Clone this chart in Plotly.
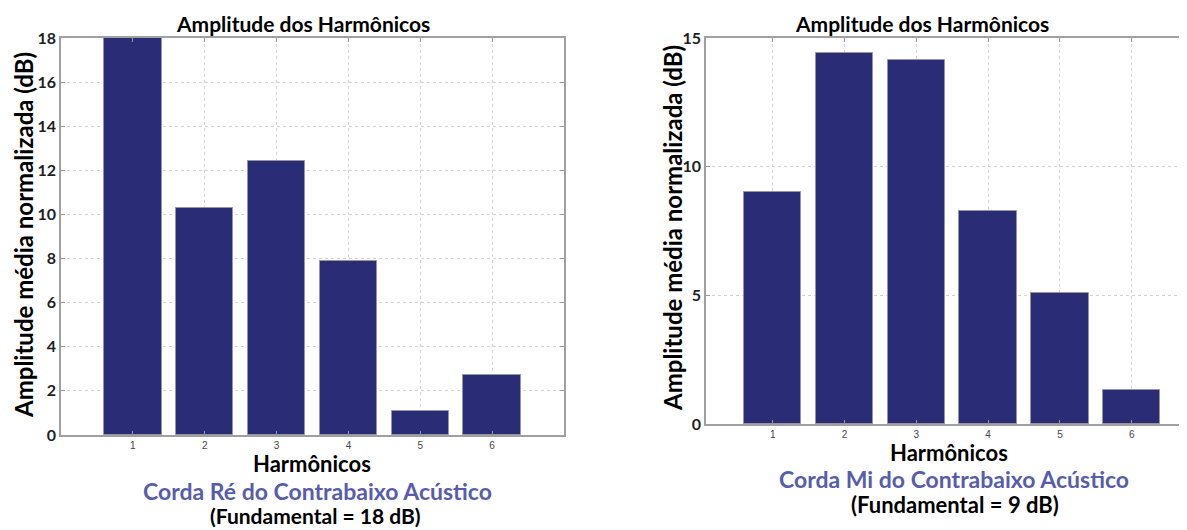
import plotly.graph_objects as go

harmonics = [1, 2, 3, 4, 5, 6]
re_values = [18.0, 10.27, 12.43, 7.9, 1.1, 2.72]
mi_values = [9.02, 14.42, 14.15, 8.28, 5.09, 1.32]

left_yticks = [0, 2, 4, 6, 8, 10, 12, 14, 16, 18]
right_yticks = [0, 5, 10, 15]

title_text = "Amplitude dos Harmônicos"
ylabel_text = "Amplitude média normalizada (dB)"
xlabel_text = "Harmônicos"
left_caption = "Corda Ré do Contrabaixo Acústico"
left_fund = "(Fundamental = 18 dB)"
right_caption = "Corda Mi do Contrabaixo Acústico"
right_fund = "(Fundamental = 9 dB)"

OFF = 8  # page body margin
W, H = 1187 - OFF, 530 - OFF
BAR = "rgb(42,44,117)"
BOLD_FONT = "Lato"
CAP_COLOR = "rgb(88,92,172)"


def px_x(p):
    return (p - OFF) / W


def px_y(p):
    return 1 - (p - OFF) / H


fig = go.Figure()
fig.add_trace(go.Bar(x=harmonics, y=re_values, width=0.8, marker=dict(color=BAR, line=dict(color="rgb(150,150,160)", width=1)),
                     xaxis="x", yaxis="y", showlegend=False))
fig.add_trace(go.Bar(x=harmonics, y=mi_values, width=0.8, marker=dict(color=BAR, line=dict(color="rgb(150,150,160)", width=1)),
                     xaxis="x2", yaxis="y2", showlegend=False))

grid = dict(showgrid=True, gridcolor="rgb(210,210,210)", griddash="dot", gridwidth=1,
            showline=True, linecolor="rgb(160,160,160)", linewidth=1.5, automargin=False,
            ticks="inside", ticklen=4, tickcolor="rgb(150,150,150)", zeroline=False)

xt = dict(tickvals=harmonics, tickfont=dict(family="Liberation Sans", size=10, color="rgb(70,70,70)"))

fig.update_layout(
    width=W, height=H, margin=dict(l=0, r=0, t=0, b=0, pad=0),
    paper_bgcolor="white", plot_bgcolor="white", bargap=0,
    xaxis=dict(domain=[px_x(61), px_x(564)], range=[0, 7], anchor="y", mirror="ticks", **grid, **xt),
    yaxis=dict(domain=[px_y(435), px_y(38)], range=[0, 18], anchor="x", mirror="ticks", tickvals=left_yticks,
               tickfont=dict(family=BOLD_FONT, size=16, color="rgb(30,30,30)", weight="bold"), **grid),
    xaxis2=dict(domain=[px_x(706), 1.0], range=[0.07, 6.77], anchor="y2", mirror="ticks", **grid, **xt),
    yaxis2=dict(domain=[px_y(424), px_y(38)], range=[0, 15], anchor="x2", mirror=False, tickvals=right_yticks,
                tickfont=dict(family=BOLD_FONT, size=16, color="rgb(30,30,30)", weight="bold"), **grid),
)


def ann(text, x, y, size, color="black", angle=0):
    fig.add_annotation(text=text, x=px_x(x), y=px_y(y), xref="paper", yref="paper",
                       showarrow=False, xanchor="center", yanchor="middle", textangle=angle,
                       font=dict(family=BOLD_FONT, size=size, color=color, weight="bold"))


ann(title_text, 303, 23, 21)
ann(title_text, 922, 23, 21)
ann(ylabel_text, 23, 235, 24, angle=-90)
ann(ylabel_text, 672, 228, 24, angle=-90)
ann(xlabel_text, 312, 463, 22)
ann(xlabel_text, 949, 452, 22)
ann(left_caption, 317, 491, 23, color=CAP_COLOR)
ann(left_fund, 315, 515, 21)
ann(right_caption, 954, 479, 23, color=CAP_COLOR)
ann(right_fund, 955, 504, 22)

fig.write_html("out.html")
